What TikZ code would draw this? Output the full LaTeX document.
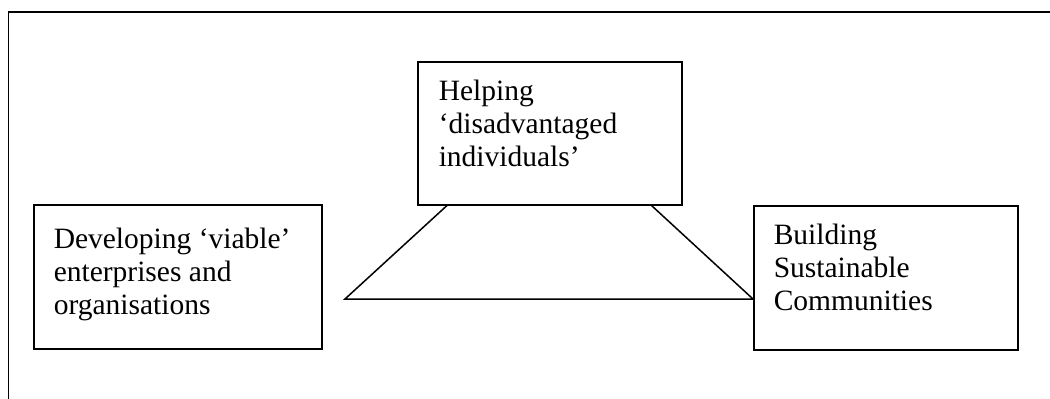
\documentclass[tikz,border=0pt]{standalone}
\usepackage{fontspec}
\setmainfont{Liberation Serif}
\newcommand{\boxtext}[3]{\parbox[c][#2][t]{#1}{\raggedright #3}}
\begin{document}
\begin{tikzpicture}[x=1pt,y=-1pt,
	aim/.style={draw, line width=1.5pt, anchor=north west, inner xsep=20pt, inner ysep=18pt, font=\fontsize{29.5}{33}\selectfont}]
	\useasboundingbox (0,0) rectangle (1050,399);
	%frame
	\draw[line width=1.8pt] (8.5,399) -- (8.5,12) -- (1050,12);
	
	%the three aims
	\node[aim, inner ysep=23pt] (develop) at (33,204) {\boxtext{248pt}{98pt}{Developing ‘viable’\\ enterprises and\\ organisations}};
	\node[aim, inner xsep=21pt] (help) at (417,61) {\boxtext{222pt}{107pt}{Helping\\ ‘disadvantaged\\ individuals’}};
	\node[aim] (build) at (753,205) {\boxtext{224pt}{108pt}{Building\\ Sustainable\\ Communities}};
	
	%trapezium
	\coordinate (baseL) at (345,299);
	\coordinate (baseR) at (build.west |- baseL);
	\draw[line width=1.5pt] ([xshift=30pt]help.south west) -- (baseL) -- (baseR) -- ([xshift=-31pt]help.south east);
\end{tikzpicture}
\end{document}
